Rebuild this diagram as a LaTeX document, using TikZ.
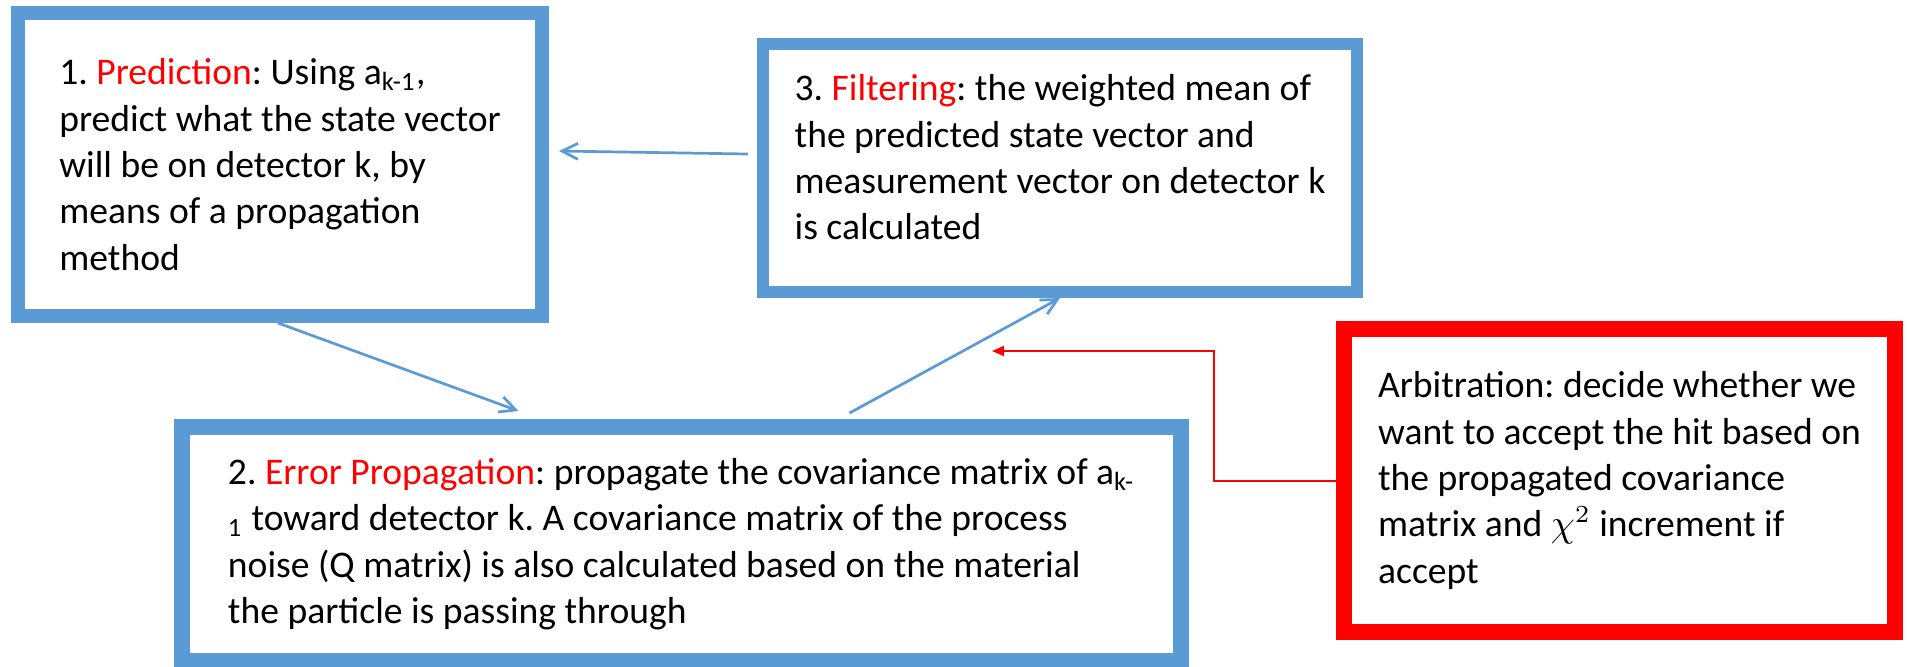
\documentclass[tikz,border=0pt]{standalone}
\usepackage{fontspec}
\setmainfont{Carlito}
\usepackage{tikz}
\usetikzlibrary{arrows.meta,positioning}
\definecolor{boxBlue}{HTML}{5B9BD5}
\definecolor{flowBlue}{HTML}{5B9BD5}
\definecolor{alertRed}{HTML}{FF0000}

\begin{document}
\frenchspacing
\begin{tikzpicture}[
  font=\fontsize{10.7}{13.2}\selectfont,
  stage/.style={draw=boxBlue, fill=white, align=left, inner sep=0pt},
  gatebox/.style={draw=alertRed, fill=white, align=left, inner sep=0pt, line width=1.6mm, minimum width=5.51cm, minimum height=3.03cm},
  flow/.style={-{Straight Barb[length=1.6mm, width=1.6mm]}, draw=flowBlue, line width=0.27mm},
  feedback/.style={-{Triangle[length=1.2mm, width=1.0mm]}, draw=alertRed, line width=0.2mm}
]
\useasboundingbox (0,0) rectangle (19.10,-6.66);

\node[stage, line width=1.4mm, minimum width=5.24cm, minimum height=3.03cm] (pred) at (2.80,-1.645)
  {1. \textcolor{alertRed}{Prediction}:\ Using a\textsubscript{k-1},\\
   predict what the state vector\\
   will be on detector k, by\\
   means of a propagation\\
   method};

\node[stage, line width=1.2mm, minimum width=5.94cm, minimum height=2.48cm] (filt) at (10.60,-1.68)
  {3. \textcolor{alertRed}{Filtering}: the weighted mean of\\
   the predicted state vector and\\
   measurement vector on detector k\\
   is calculated\\[-0.25cm]};

\node[stage, line width=1.6mm, minimum width=9.99cm, minimum height=2.34cm] (errprop) at (6.815,-5.44)
  {2. \textcolor{alertRed}{Error Propagation}:\ propagate the covariance matrix of a\textsubscript{k-}\\
   \textsubscript{1} toward detector k. A covariance matrix of the process\\
   noise (Q matrix) is also calculated based on the material\\
   the particle is passing through};

\node[gatebox] (arb) at (16.195,-4.805)
  {Arbitration: decide whether we\\
   want to accept the hit based on\\
   the propagated covariance\\
   matrix and $\chi^2$ increment if\\
   accept};

\coordinate[below left=0.53cm and 0.68cm of filt.south] (gate);

\draw[flow] ([xshift=-0.09cm, yshift=0.14cm]filt.west) -- ([xshift=0.10cm, yshift=0.135cm]pred.east);
\draw[flow] ([xshift=-0.02cm]pred.south) -- ([xshift=-1.63cm, yshift=0.08cm]errprop.north);
\draw[flow] ([xshift=1.68cm, yshift=0.06cm]errprop.north) -- (filt.south);
\draw[feedback] (arb.west) -- ++(-1.22,0) |- (gate);
\end{tikzpicture}
\end{document}
